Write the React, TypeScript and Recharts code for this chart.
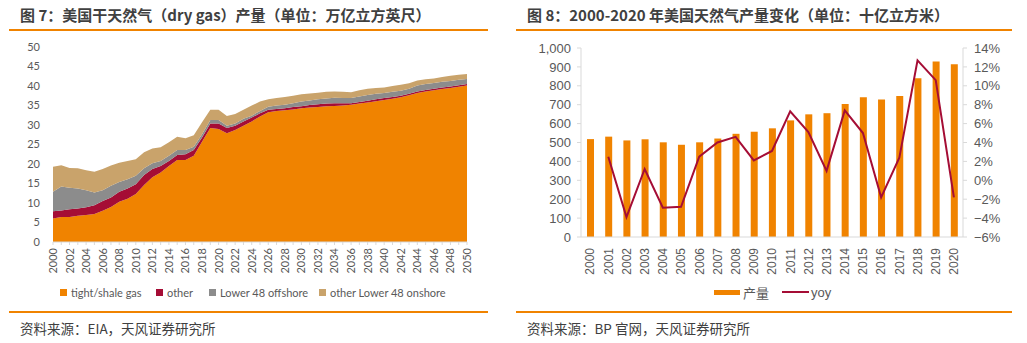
import { Area, AreaChart, Bar, ComposedChart, Line, XAxis, YAxis } from "recharts";

// Fig 7: US dry gas production by source (trillion cubic feet), EIA
const YEARS = Array.from({ length: 51 }, (_, i) => 2000 + i);
const SHALE = [
  6.0, 6.4, 6.4, 6.7, 6.9, 7.2, 8.0, 9.0, 10.3, 11.1, 12.3, 14.6, 16.6, 17.8, 19.5, 21.0, 21.0,
  22.1, 25.7, 29.2, 29.0, 27.9, 28.7, 29.8, 30.9, 32.2, 33.3, 33.6, 33.8, 34.0, 34.3, 34.5, 34.6,
  34.8, 34.9, 35.0, 35.2, 35.5, 35.8, 36.1, 36.4, 36.7, 37.1, 37.6, 38.2, 38.6, 38.9, 39.2, 39.5,
  39.8, 40.1,
];
const OTHER = [
  1.9, 1.7, 2.0, 1.9, 2.0, 2.2, 2.5, 2.4, 2.6, 2.6, 2.5, 2.6, 2.1, 1.7, 1.3, 1.3, 1.5, 1.5, 1.1,
  1.2, 1.4, 1.3, 1.1, 1.1, 1.0, 0.8, 0.6, 0.5, 0.5, 0.6, 0.5, 0.6, 0.7, 0.7, 0.7, 0.6, 0.4, 0.4,
  0.4, 0.5, 0.5, 0.5, 0.4, 0.4, 0.4, 0.4, 0.4, 0.4, 0.4, 0.4, 0.4,
];
const OFFSHORE = [
  5.0, 6.1, 5.5, 5.1, 4.4, 3.3, 2.8, 3.0, 2.5, 2.4, 2.2, 1.7, 1.5, 1.3, 1.3, 1.3, 1.1, 0.8, 0.8,
  0.9, 0.9, 0.6, 0.6, 0.7, 0.5, 0.6, 0.8, 0.9, 0.9, 1.0, 1.2, 1.2, 1.3, 1.3, 1.4, 1.3, 1.3, 1.4,
  1.5, 1.4, 1.3, 1.3, 1.3, 1.3, 1.5, 1.5, 1.5, 1.5, 1.4, 1.4, 1.3,
];
const ONSHORE = [
  6.4, 5.5, 5.1, 5.2, 5.1, 5.3, 5.4, 5.2, 4.9, 4.7, 4.2, 4.1, 3.8, 3.5, 3.5, 3.4, 3.0, 3.0, 3.1,
  2.6, 2.6, 2.5, 2.4, 2.3, 2.6, 2.4, 1.9, 1.9, 2.0, 1.9, 1.9, 1.8, 1.7, 1.7, 1.6, 1.6, 1.5, 1.6,
  1.6, 1.5, 1.4, 1.5, 1.5, 1.4, 1.3, 1.2, 1.1, 1.2, 1.3, 1.3, 1.3,
];
const LEFT_TICKS = [0, 5, 10, 15, 20, 25, 30, 35, 40, 45, 50];

// Fig 8: US natural gas production 2000-2020 (billion m3), BP
const BP_YEARS = [
  "2000", "2001", "2002", "2003", "2004", "2005", "2006", "2007", "2008", "2009", "2010",
  "2011", "2012", "2013", "2014", "2015", "2016", "2017", "2018", "2019", "2020",
];
const PRODUCTION = [
  518, 531, 511, 517, 501, 488, 501, 521, 546, 557, 575, 617, 649, 655, 704, 740, 727, 746, 840,
  929, 914,
];
const YOY = [
  null, 2.5, -3.9, 1.2, -2.9, -2.8, 2.5, 4.0, 4.6, 2.1, 3.1, 7.3, 5.1, 1.0, 7.4, 5.0, -1.8, 2.4,
  12.7, 10.6, -1.8,
];
const PROD_TICKS = [0, 100, 200, 300, 400, 500, 600, 700, 800, 900, 1000];
const YOY_TICKS = [-6, -4, -2, 0, 2, 4, 6, 8, 10, 12, 14];

const ORANGE = "#F08300";
const CRIMSON = "#A50D35";
const GRAY = "#8C8C8C";
const TAN = "#C9A36B";
const AXIS = "#D9D9D9";
const LABEL = "#595959";
const CJK = "'Noto Sans CJK SC', 'Noto Sans', sans-serif";

const gasData = YEARS.map((year, i) => ({
  year,
  shale: SHALE[i],
  other: OTHER[i],
  offshore: OFFSHORE[i],
  onshore: ONSHORE[i],
}));

const bpData = BP_YEARS.map((year, i) => ({
  year,
  production: PRODUCTION[i],
  yoy: YOY[i],
}));

function VerticalTick(props: any) {
  const { x, y, payload, font, size, evenOnly } = props;
  if (evenOnly && payload.value % 2 !== 0) return null;
  return (
    <g transform={`translate(${x},${y})`}>
      <text
        transform="rotate(-90)"
        textAnchor="end"
        dy="0.36em"
        fill={LABEL}
        fontSize={size}
        fontFamily={font}
      >
        {payload.value}
      </text>
    </g>
  );
}

const fmtPct = (v: number) => (v < 0 ? `\u2212${-v}%` : `${v}%`);

function Header({ left, width, text }: { left: number; width: number; text: string }) {
  return (
    <>
      <div
        style={{
          position: "absolute",
          left: left + 11,
          top: 5,
          fontFamily: CJK,
          fontWeight: 700,
          fontSize: 15,
          lineHeight: "20px",
          color: "#404040",
          whiteSpace: "nowrap",
        }}
      >
        {text}
      </div>
      <div
        style={{ position: "absolute", left, top: 29, width, height: 2, background: ORANGE }}
      />
    </>
  );
}

function Footer({ left, width, text }: { left: number; width: number; text: string }) {
  return (
    <>
      <div
        style={{ position: "absolute", left, top: 311, width, height: 1.5, background: ORANGE }}
      />
      <div
        style={{
          position: "absolute",
          left: left + 11,
          top: 318,
          fontFamily: CJK,
          fontSize: 13.5,
          lineHeight: "20px",
          color: "#404040",
          whiteSpace: "nowrap",
        }}
      >
        {text}
      </div>
    </>
  );
}

const LEFT_LEGEND = [
  { name: "tight/shale gas", color: ORANGE, x: 60 },
  { name: "other", color: CRIMSON, x: 156 },
  { name: "Lower 48 offshore", color: GRAY, x: 209 },
  { name: "other Lower 48 onshore", color: TAN, x: 319 },
];

export default function App() {
  return (
    <div
      style={{
        position: "absolute",
        left: 0,
        top: 0,
        width: 1027,
        height: 343,
        background: "#fff",
        overflow: "hidden",
      }}
    >
      <Header left={9} width={479} text="图 7：美国干天然气（dry gas）产量（单位：万亿立方英尺）" />
      <Header left={516} width={496} text="图 8：2000-2020 年美国天然气产量变化（单位：十亿立方米）" />

      <div style={{ position: "absolute", left: 0, top: 0 }}>
        <AreaChart
          width={500}
          height={280}
          data={gasData}
          margin={{ top: 47, right: 33, bottom: 0, left: 0 }}
        >
          <XAxis
            dataKey="year"
            type="number"
            domain={[2000, 2050]}
            ticks={YEARS}
            interval={0}
            height={38}
            tickSize={3}
            tickMargin={3}
            stroke={AXIS}
            tick={<VerticalTick font="Lato, sans-serif" size={11} evenOnly />}
          />
          <YAxis
            domain={[0, 50]}
            ticks={LEFT_TICKS}
            interval={0}
            width={53}
            axisLine={false}
            tickLine={false}
            tickMargin={7}
            tick={{ fill: LABEL, fontSize: 11, fontFamily: "Lato, sans-serif" }}
          />
          <Area dataKey="shale" stackId="1" type="linear" stroke="none" fill={ORANGE} fillOpacity={1} isAnimationActive={false} />
          <Area dataKey="other" stackId="1" type="linear" stroke="none" fill={CRIMSON} fillOpacity={1} isAnimationActive={false} />
          <Area dataKey="offshore" stackId="1" type="linear" stroke="none" fill={GRAY} fillOpacity={1} isAnimationActive={false} />
          <Area dataKey="onshore" stackId="1" type="linear" stroke="none" fill={TAN} fillOpacity={1} isAnimationActive={false} />
        </AreaChart>
      </div>

      {LEFT_LEGEND.map((item) => (
        <div
          key={item.name}
          style={{
            position: "absolute",
            left: item.x,
            top: 284,
            height: 16,
            display: "flex",
            alignItems: "center",
            fontFamily: "Lato, sans-serif",
            fontSize: 11,
            color: LABEL,
            whiteSpace: "nowrap",
          }}
        >
          <span style={{ width: 7, height: 7, background: item.color, marginRight: 4 }} />
          {item.name}
        </div>
      ))}

      <div style={{ position: "absolute", left: 510, top: 0 }}>
        <ComposedChart
          width={517}
          height={280}
          data={bpData}
          margin={{ top: 48, right: 24, bottom: 0, left: 0 }}
        >
          <XAxis
            dataKey="year"
            interval={0}
            height={43}
            tickLine={false}
            tickMargin={5}
            stroke={AXIS}
            tick={<VerticalTick font="'Liberation Sans', Arial, sans-serif" size={12} />}
          />
          <YAxis
            yAxisId="left"
            domain={[0, 1000]}
            ticks={PROD_TICKS}
            interval={0}
            width={71}
            stroke={AXIS}
            tickSize={4}
            tickMargin={6}
            tickFormatter={(v: number) => v.toLocaleString("en-US")}
            tick={{ fill: LABEL, fontSize: 13, fontFamily: "'Liberation Sans', Arial, sans-serif" }}
          />
          <YAxis
            yAxisId="right"
            orientation="right"
            domain={[-6, 14]}
            ticks={YOY_TICKS}
            interval={0}
            width={40}
            stroke={AXIS}
            tickSize={4}
            tickMargin={7}
            tickFormatter={fmtPct}
            tick={{ fill: LABEL, fontSize: 13, fontFamily: "'Liberation Sans', Arial, sans-serif" }}
          />
          <Bar yAxisId="left" dataKey="production" fill={ORANGE} barSize={7} isAnimationActive={false} />
          <Line
            yAxisId="right"
            dataKey="yoy"
            type="linear"
            stroke={CRIMSON}
            strokeWidth={2}
            dot={false}
            isAnimationActive={false}
          />
        </ComposedChart>
      </div>

      <div
        style={{
          position: "absolute",
          left: 714,
          top: 284,
          height: 16,
          display: "flex",
          alignItems: "center",
          fontSize: 13,
          color: LABEL,
          whiteSpace: "nowrap",
        }}
      >
        <span style={{ width: 26, height: 5, background: ORANGE, marginRight: 3 }} />
        <span style={{ fontFamily: CJK }}>产量</span>
        <span style={{ width: 27, height: 2, background: CRIMSON, marginLeft: 13, marginRight: 2 }} />
        <span style={{ fontFamily: "'Liberation Sans', Arial, sans-serif" }}>yoy</span>
      </div>

      <Footer left={9} width={479} text="资料来源：EIA，天风证券研究所" />
      <Footer left={516} width={496} text="资料来源：BP 官网，天风证券研究所" />
    </div>
  );
}
